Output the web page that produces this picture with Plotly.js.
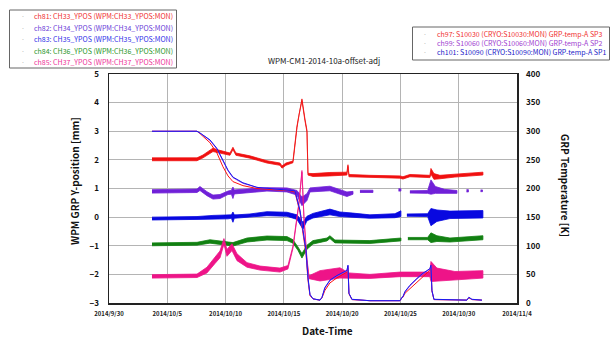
<!DOCTYPE html>
<html><head><meta charset="utf-8">
<script src="https://cdn.plot.ly/plotly-3.0.1.min.js"></script>
<style>html,body{margin:0;padding:0;background:#fff}#chart{width:611px;height:339px}</style>
</head><body><div id="chart"></div>
<script>
// ---- position channels (WPM GRP Y-position [mm]) : time, centre value, half-spread of the noise band
const ch81_t = ['2014-10-03 16:30','2014-10-07 13:10','2014-10-08 01:30','2014-10-08 22:05','2014-10-09 08:25','2014-10-10 09:05','2014-10-10 15:10','2014-10-10 21:20','2014-10-12 02:10','2014-10-13 13:10','2014-10-14 16:00','2014-10-14 20:10','2014-10-15 04:20','2014-10-15 18:45','2014-10-16 03:00','2014-10-16 07:10','2014-10-16 13:15','2014-10-16 19:25','2014-10-16 23:35','2014-10-17 01:40','2014-10-17 12:00','2014-10-18 22:50','2014-10-20 09:50','2014-10-20 12:00','2014-10-20 14:00','2014-10-22 09:10','2014-10-24 23:00','2014-10-25 05:10','2014-10-25 19:30','2014-10-27 12:40','2014-10-27 14:50','2014-10-27 21:00','2014-10-28 09:20','2014-10-29 16:10','2014-10-31 03:10','2014-11-01 01:50'];
const ch81_y = [2.02,2.02,2.12,2.35,2.3,2.2,2.4,2.2,2.1,1.93,1.85,1.75,1.85,1.93,3.15,3.6,4.1,3.4,3.0,1.5,1.47,1.5,1.52,1.8,1.45,1.42,1.4,1.37,1.45,1.42,1.6,1.42,1.4,1.45,1.5,1.52];
const ch81_w = [0.05,0.05,0.05,0.06,0.05,0.04,0.04,0.04,0.04,0.04,0.04,0.04,0.04,0.03,0.03,0.03,0.03,0.03,0.03,0.03,0.05,0.06,0.05,0.03,0.04,0.04,0.04,0.04,0.04,0.04,0.1,0.1,0.06,0.05,0.05,0.05];

const ch82_t = ['2014-10-03 16:30','2014-10-07 13:10','2014-10-07 19:15','2014-10-08 09:40','2014-10-08 22:05','2014-10-09 12:30','2014-10-10 05:00','2014-10-10 12:00','2014-10-10 15:10','2014-10-10 18:00','2014-10-10 23:30','2014-10-12 02:10','2014-10-13 13:10','2014-10-15 06:25','2014-10-16 03:00','2014-10-16 13:15','2014-10-16 23:35','2014-10-17 05:45','2014-10-18 22:50','2014-10-20 09:50','2014-10-20 22:20','2014-10-21 06:00','2014-10-21 12:40','2014-10-22 15:25','2014-10-23 12:00','2014-10-24 20:00','2014-10-25 01:00','2014-10-25 08:00','2014-10-25 19:30','2014-10-27 08:00','2014-10-27 14:50','2014-10-28 00:00','2014-10-28 19:00','2014-10-29 20:20','2014-10-30 06:00','2014-10-30 16:00','2014-10-30 20:00','2014-10-31 08:00','2014-10-31 21:00','2014-11-01 01:00'];
const ch82_y = [0.9,0.92,1.0,0.82,0.7,0.72,0.85,0.87,0.85,0.88,0.9,0.92,0.97,0.95,0.85,0.55,0.7,0.95,1.0,0.8,0.85,null,0.9,0.9,null,0.95,0.95,null,0.88,0.88,1.05,0.95,0.9,0.88,null,0.92,0.92,null,0.92,0.92];
const ch82_w = [0.06,0.06,0.07,0.07,0.07,0.07,0.06,0.07,0.2,0.07,0.06,0.06,0.06,0.07,0.08,0.15,0.12,0.07,0.08,0.08,0.05,0,0.04,0.04,0,0.04,0.04,0,0.04,0.05,0.25,0.12,0.07,0.05,0,0.04,0.04,0,0.03,0.03];

const ch83_t = ['2014-10-03 16:30','2014-10-07 13:10','2014-10-08 22:05','2014-10-10 05:00','2014-10-10 12:00','2014-10-10 15:10','2014-10-10 18:00','2014-10-10 23:30','2014-10-12 02:10','2014-10-13 13:10','2014-10-15 06:25','2014-10-16 03:00','2014-10-16 15:20','2014-10-16 23:35','2014-10-17 12:00','2014-10-18 22:50','2014-10-19 19:25','2014-10-20 22:20','2014-10-22 09:10','2014-10-24 12:40','2014-10-25 01:00','2014-10-25 07:00','2014-10-25 13:20','2014-10-27 08:00','2014-10-27 14:50','2014-10-28 03:10','2014-10-29 06:00','2014-11-01 01:50'];
const ch83_y = [-0.05,-0.03,0.0,0.0,0.02,0.0,0.02,0.02,0.05,0.12,0.1,0.0,-0.3,-0.05,0.05,0.18,0.1,0.07,0.02,0.05,0.12,null,0.07,0.07,0.0,0.05,0.08,0.1];
const ch83_w = [0.05,0.05,0.06,0.06,0.06,0.18,0.06,0.06,0.06,0.07,0.07,0.08,0.12,0.08,0.08,0.1,0.08,0.07,0.06,0.07,0.1,0,0.04,0.05,0.3,0.2,0.13,0.13];

const ch84_t = ['2014-10-03 16:30','2014-10-07 13:10','2014-10-08 15:50','2014-10-09 18:40','2014-10-10 15:10','2014-10-11 20:10','2014-10-13 13:10','2014-10-15 06:25','2014-10-15 18:45','2014-10-16 05:00','2014-10-16 13:15','2014-10-16 23:35','2014-10-17 12:00','2014-10-18 16:50','2014-10-18 22:50','2014-10-19 09:10','2014-10-22 09:10','2014-10-25 01:00','2014-10-25 08:00','2014-10-25 15:20','2014-10-27 08:00','2014-10-27 14:50','2014-10-28 03:10','2014-10-29 06:00','2014-11-01 01:50'];
const ch84_y = [-0.95,-0.93,-0.85,-0.9,-0.95,-0.8,-0.73,-0.75,-0.85,-1.1,-1.35,-1.05,-0.88,-0.78,-0.7,-0.85,-0.87,-0.78,null,-0.75,-0.75,-0.72,-0.75,-0.8,-0.72];
const ch84_w = [0.05,0.05,0.06,0.06,0.06,0.07,0.07,0.07,0.06,0.06,0.08,0.07,0.06,0.05,0.05,0.05,0.05,0.05,0,0.04,0.04,0.17,0.1,0.07,0.07];

const ch85_t = ['2014-10-03 16:30','2014-10-07 13:10','2014-10-08 09:40','2014-10-09 02:10','2014-10-09 12:30','2014-10-09 20:40','2014-10-10 02:50','2014-10-10 13:10','2014-10-10 23:30','2014-10-11 20:10','2014-10-12 22:50','2014-10-14 16:00','2014-10-15 08:25','2014-10-15 18:45','2014-10-16 07:10','2014-10-16 13:15','2014-10-16 17:20','2014-10-16 23:35','2014-10-17 03:40','2014-10-18 02:25','2014-10-19 19:25','2014-10-20 14:00','2014-10-22 09:10','2014-10-24 23:00','2014-10-27 12:40','2014-10-27 14:50','2014-10-28 03:10','2014-10-29 16:10','2014-11-01 01:50'];
const ch85_y = [-2.07,-2.05,-1.85,-1.5,-1.3,-0.85,-1.25,-1.05,-1.4,-1.67,-1.78,-1.85,-1.75,-1.05,0.5,1.6,0.0,-1.5,-2.1,-2.05,-1.95,-2.05,-2.07,-2.0,-2.0,-1.9,-2.0,-2.05,-2.0];
const ch85_w = [0.06,0.06,0.1,0.12,0.12,0.1,0.12,0.12,0.12,0.08,0.07,0.07,0.06,0.04,0.03,0.03,0.03,0.03,0.05,0.18,0.18,0.1,0.07,0.08,0.08,0.35,0.22,0.15,0.13];

// ---- temperature channels (GRP Temperature [K])
const temp_t = ['2014-10-03 16:30','2014-10-07 13:10','2014-10-07 19:15','2014-10-08 15:50','2014-10-09 06:15','2014-10-09 18:40','2014-10-10 05:00','2014-10-10 15:10','2014-10-11 11:45','2014-10-12 16:35','2014-10-14 01:40','2014-10-15 12:30','2014-10-15 22:50','2014-10-16 09:10','2014-10-16 15:20','2014-10-16 21:35','2014-10-17 01:40','2014-10-17 05:45','2014-10-17 12:00','2014-10-18 02:25','2014-10-18 06:30','2014-10-18 12:30','2014-10-18 22:50','2014-10-19 13:20','2014-10-20 09:50','2014-10-20 12:00','2014-10-20 14:00','2014-10-20 20:10','2014-10-22 09:10','2014-10-24 23:00','2014-10-25 03:10','2014-10-25 05:10','2014-10-25 09:20','2014-10-25 19:30','2014-10-26 10:00','2014-10-26 22:20','2014-10-27 12:40','2014-10-27 14:50','2014-10-27 16:50','2014-10-27 21:00','2014-10-30 16:50','2014-10-30 21:00','2014-10-31 03:10','2014-10-31 23:50'];
const ch97_k  = [300,300,296,280,262,238,222,212,205,200,198,196,194,158,122,86,40,13,7,5,9,22,35,44,54,62,16,6,4,4,9,10,17,25,37,47,57,63,21,6,5,9,6,5];
const ch99_k  = [300,300,297,284,269,249,231,219,209,202,199,197,196,161,127,91,44,14,7,5,10,26,39,47,56,65,17,6,4,4,10,11,19,30,42,51,59,65,22,6,5,10,6,5];
const ch101_k = [300,300,297,285,270,250,232,220,210,202,199,197,196,162,128,92,45,15,7.5,5,10,27,40,48,57,66,17,6.5,4,4,10,11,20,31,43,52,60,66,22,6.5,5,10,6.5,5];

// ---- labels
const legendA = ['ch81: CH33_YPOS (WPM:CH33_YPOS:MON)','ch82: CH34_YPOS (WPM:CH34_YPOS:MON)','ch83: CH35_YPOS (WPM:CH35_YPOS:MON)','ch84: CH36_YPOS (WPM:CH36_YPOS:MON)','ch85: CH37_YPOS (WPM:CH37_YPOS:MON)'];
const legendB = ['ch97: S10030 (CRYO:S10030:MON) GRP-temp-A SP3','ch99: S10060 (CRYO:S10060:MON) GRP-temp-A SP2','ch101: S10090 (CRYO:S10090:MON) GRP-temp-A SP1'];
const colA = ['#f01010','#7020d8','#0808e0','#118011','#ee1488'];
const txtA = ['#f03030','#6a40d8','#3030e8','#2a962a','#ee3399'];
const colB = ['#ff1010','#a040e0','#1818f0'];
const txtB = ['#f03030','#a040d0','#2020c8'];

function band(t, y, w) {
  const xs = [], ys = [];
  let seg = [];
  const flush = () => {
    if (!seg.length) return;
    seg.forEach(i => { xs.push(t[i]); ys.push(y[i] + w[i]); });
    seg.slice().reverse().forEach(i => { xs.push(t[i]); ys.push(y[i] - w[i]); });
    xs.push(null); ys.push(null);
    seg = [];
  };
  for (let i = 0; i < t.length; i++) { if (y[i] === null) flush(); else seg.push(i); }
  flush();
  return {xs, ys};
}

const pos = [[ch81_t,ch81_y,ch81_w],[ch82_t,ch82_y,ch82_w],[ch83_t,ch83_y,ch83_w],[ch84_t,ch84_y,ch84_w],[ch85_t,ch85_y,ch85_w]];
const traces = [];
pos.forEach((p, k) => {
  const b = band(p[0], p[1], p[2]);
  traces.push({x: b.xs, y: b.ys, type: 'scatter', mode: 'lines', fill: 'toself',
    fillcolor: colA[k], line: {color: colA[k], width: 0.8}, name: legendA[k], showlegend: false, hoverinfo: 'skip'});
});
[ch97_k, ch99_k, ch101_k].forEach((v, k) => {
  traces.push({x: temp_t, y: v, type: 'scatter', mode: 'lines', yaxis: 'y2',
    line: {color: colB[k], width: 1}, name: legendB[k], showlegend: false});
});

const PX = x => (x - 109) / 408, PY = y => (303 - y) / 229;
const ann = [];
const shapes = [];
const F = 'Noto Sans CJK JP, Noto Sans, sans-serif';
const A = (x, y, text, font, extra) => Object.assign({xref:'paper', yref:'paper', x: PX(x), y: PY(y), text, showarrow:false,
  xanchor:'center', yanchor:'middle', font}, extra || {});
ann.push(A(324, 61, 'WPM-CM1-2014-10a-offset-adj', {family:F,size:8,color:'#222'}));
ann.push(A(74, 181, 'WPM GRP Y-position [mm]', {family:F,size:10,color:'#111',weight:'bold'}, {textangle:-90}));
ann.push(A(566, 185, 'GRP Temperature [K]', {family:F,size:10,color:'#111',weight:'bold'}, {textangle:90}));
ann.push(A(327, 330, 'Date-Time', {family:F,size:10,color:'#111',weight:'bold'}));
const rowA = [16,28,39,51,62];
legendA.forEach((s, k) => {
  ann.push(A(32, rowA[k], s, {family:F,size:7,color:txtA[k]}, {xanchor:'left'}));
  ann.push(A(23, rowA[k], '·', {family:F,size:7,color:'#bbb'}));
});
const rowB = [34,43,52];
legendB.forEach((s, k) => {
  ann.push(A(435, rowB[k], s, {family:F,size:7,color:txtB[k]}, {xanchor:'left'}));
  ann.push(A(425, rowB[k], '·', {family:F,size:7,color:'#bbb'}));
});
shapes.push({type:'rect',xref:'paper',yref:'paper',x0:PX(9.5),x1:PX(176.5),y0:PY(68),y1:PY(10),line:{color:'#666',width:1}});
shapes.push({type:'rect',xref:'paper',yref:'paper',x0:PX(412.5),x1:PX(609.5),y0:PY(60),y1:PY(27),line:{color:'#666',width:1}});

const layout = {
  width: 611, height: 339,
  margin: {l: 109, r: 94, t: 74, b: 36},
  paper_bgcolor: '#fff', plot_bgcolor: '#fff',
  showlegend: false,
  xaxis: {type: 'date', range: ['2014-09-30', '2014-11-04'], tick0: '2014-09-30', dtick: 5*86400000,
    tickformat: '%Y/%-m/%-d', showgrid: true, gridcolor: '#b4b4b4', gridwidth: 1, zeroline: false,
    showline: true, mirror: true, linecolor: '#222', linewidth: 1.5, ticks: '', ticklabelstandoff: 4,
    tickfont: {family: F, size: 6, color: '#222', weight: 'bold'}},
  yaxis: {range: [-3, 5], dtick: 1, showgrid: true, gridcolor: '#b4b4b4', gridwidth: 1, zeroline: false,
    showline: true, mirror: true, linecolor: '#222', linewidth: 1.5, ticks: '', ticklabelstandoff: 7,
    tickfont: {family: F, size: 8, color: '#111', weight: 'bold'}},
  yaxis2: {range: [0, 400], dtick: 50, overlaying: 'y', side: 'right', showgrid: false, zeroline: false,
    showline: false, ticks: '', ticklabelstandoff: 8,
    tickfont: {family: F, size: 8, color: '#111', weight: 'bold'}},
  annotations: ann, shapes: shapes
};
Plotly.newPlot('chart', traces, layout, {staticPlot: true});
</script></body></html>
